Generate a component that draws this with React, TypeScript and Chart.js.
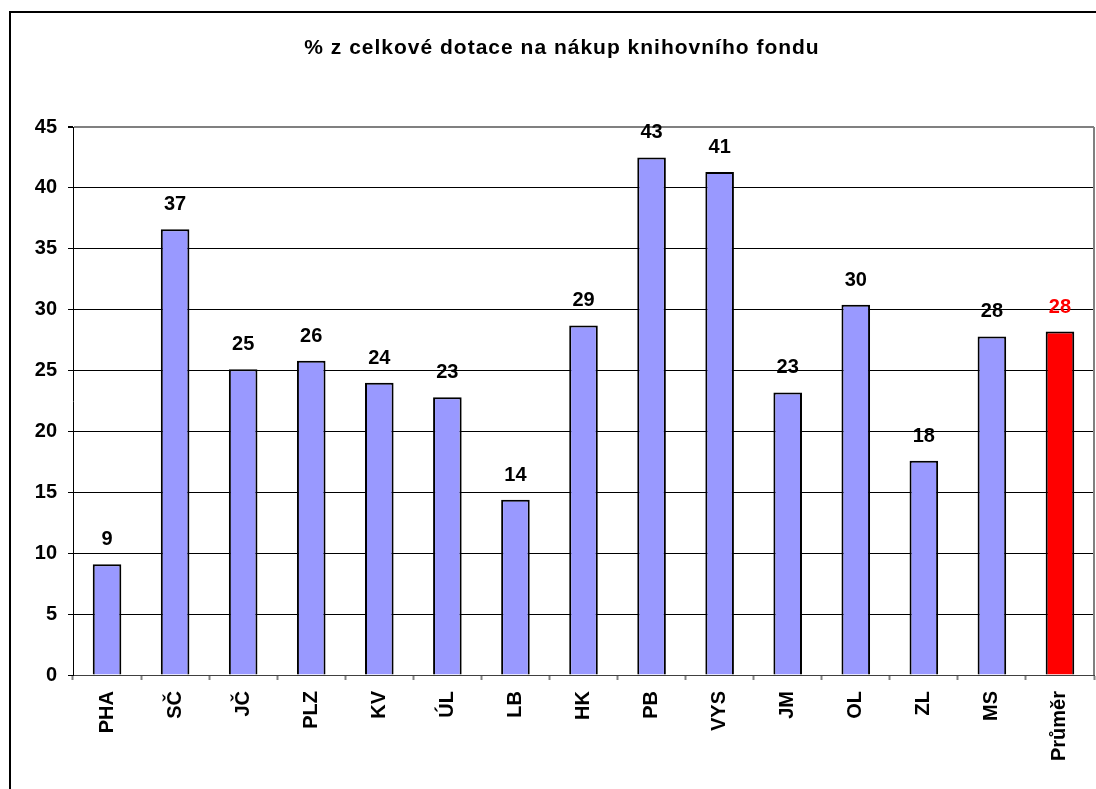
import React, { useEffect, useRef } from "react";
import { Chart, registerables } from "chart.js";

Chart.register(...registerables);

const TITLE = "% z celkové dotace na nákup knihovního fondu";
const categories = ["PHA", "SČ", "JČ", "PLZ", "KV", "ÚL", "LB", "HK", "PB", "VYS", "JM", "OL", "ZL", "MS", "Průměr"];
const values = [9.1, 36.6, 25.1, 25.8, 24.0, 22.8, 14.4, 28.7, 42.5, 41.3, 23.2, 30.4, 17.6, 27.8, 28.2];
const valueLabels = ["9", "37", "25", "26", "24", "23", "14", "29", "43", "41", "23", "30", "18", "28", "28"];
const barColors = ["#9999FF", "#9999FF", "#9999FF", "#9999FF", "#9999FF", "#9999FF", "#9999FF", "#9999FF", "#9999FF", "#9999FF", "#9999FF", "#9999FF", "#9999FF", "#9999FF", "#FF0000"];
const labelColors = ["#000", "#000", "#000", "#000", "#000", "#000", "#000", "#000", "#000", "#000", "#000", "#000", "#000", "#000", "#FF0000"];
const yMin = 0;
const yMax = 45;
const yStep = 5;

const FONT = "'Liberation Sans', Arial, sans-serif";
const W = 1096;
const H = 789;

export default function App() {
  const ref = useRef<HTMLCanvasElement | null>(null);

  useEffect(() => {
    if (!ref.current) return;
    document.body.style.overflow = "hidden";
    const extras = {
      id: "extras",
      beforeDraw(chart: any) {
        const ctx = chart.ctx;
        ctx.save();
        ctx.fillStyle = "#fff";
        ctx.fillRect(0, 0, chart.width, chart.height);
        ctx.strokeStyle = "#000";
        ctx.lineWidth = 2;
        ctx.beginPath();
        ctx.moveTo(10, chart.height + 5);
        ctx.lineTo(10, 12);
        ctx.lineTo(chart.width + 5, 12);
        ctx.stroke();
        ctx.restore();
      },
      afterDatasetsDraw(chart: any) {
        const ctx = chart.ctx;
        const meta = chart.getDatasetMeta(0);
        ctx.save();
        ctx.font = `bold 20px ${FONT}`;
        ctx.textAlign = "center";
        ctx.textBaseline = "alphabetic";
        meta.data.forEach((bar: any, i: number) => {
          ctx.fillStyle = labelColors[i];
          ctx.fillText(valueLabels[i], bar.x, bar.y - 19);
        });
        ctx.restore();
      },
      afterDraw(chart: any) {
        const ctx = chart.ctx;
        const a = chart.chartArea;
        ctx.save();
        ctx.strokeStyle = "#808080";
        ctx.lineWidth = 2;
        ctx.beginPath();
        ctx.moveTo(a.right, a.top);
        ctx.lineTo(a.right, a.bottom);
        ctx.stroke();
        ctx.fillStyle = "#000";
        ctx.font = `bold 21px ${FONT}`;
        (ctx as any).letterSpacing = "1px";
        ctx.textAlign = "center";
        ctx.textBaseline = "middle";
        ctx.fillText(TITLE, 562, 48);
        ctx.restore();
      },
    };

    const chart = new Chart(ref.current, {
      type: "bar",
      data: {
        labels: categories,
        datasets: [
          {
            data: values,
            backgroundColor: barColors,
            borderColor: "#000",
            borderWidth: 2,
            categoryPercentage: 1,
            barPercentage: 0.42,
          },
        ],
      },
      options: {
        responsive: false,
        animation: false,
        devicePixelRatio: 1,
        layout: { padding: { top: 127, right: 2, bottom: 0, left: 0 } },
        plugins: {
          legend: { display: false },
          title: { display: false },
          tooltip: { enabled: false },
        },
        scales: {
          x: {
            afterFit(scale: any) {
              scale.height = 114;
            },
            grid: {
              offset: true,
              drawOnChartArea: false,
              drawTicks: true,
              tickLength: 5,
              tickColor: "#808080",
              tickWidth: 2,
            },
            border: { display: true, color: "#404040", width: 1 },
            ticks: {
              minRotation: 90,
              maxRotation: 90,
              autoSkip: false,
              padding: 11,
              color: "#000",
              font: { family: FONT, size: 20, weight: "bold" },
            },
          },
          y: {
            min: yMin,
            max: yMax,
            afterFit(scale: any) {
              scale.width = 73;
            },
            grid: {
              color: (c: any) => (c.tick && c.tick.value === yMax ? "#808080" : "#000"),
              lineWidth: (c: any) => (c.tick && c.tick.value === yMax ? 2 : 1),
              tickColor: "#000",
              tickLength: 5,
              drawTicks: true,
            },
            border: { display: true, color: "#000", width: 1 },
            ticks: {
              stepSize: yStep,
              padding: 11,
              color: "#000",
              font: { family: FONT, size: 20, weight: "bold" },
            },
          },
        },
      },
      plugins: [extras],
    } as any);
    return () => chart.destroy();
  }, []);

  return (
    <div style={{ position: "fixed", left: 0, top: 0, width: W, height: H, overflow: "hidden" }}>
      <canvas ref={ref} width={W} height={H} style={{ display: "block", width: W, height: H }} />
    </div>
  );
}
